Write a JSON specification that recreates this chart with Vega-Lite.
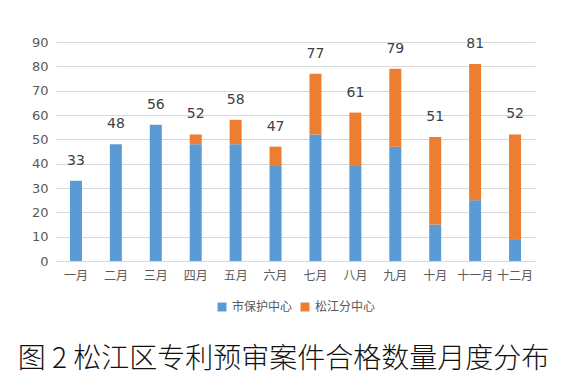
{
  "$schema": "https://vega.github.io/schema/vega-lite/v6.json",
  "autosize": {"type": "none"},
  "width": 479,
  "height": 219,
  "padding": {"left": 56, "top": 42, "right": 38, "bottom": 120},
  "background": "white",
  "config": {
    "font": "Noto Sans CJK SC",
    "view": {"stroke": null},
    "axis": {"labelColor": "#595959", "titleColor": "#595959"},
    "legend": {"layout": {"bottom": {"anchor": "middle"}}}
  },
  "data": {"values": [
    {"month": "一月", "series": "市保护中心", "value": 33, "o": 1},
    {"month": "二月", "series": "市保护中心", "value": 48, "o": 1},
    {"month": "三月", "series": "市保护中心", "value": 56, "o": 1},
    {"month": "四月", "series": "市保护中心", "value": 48, "o": 1},
    {"month": "五月", "series": "市保护中心", "value": 48, "o": 1},
    {"month": "六月", "series": "市保护中心", "value": 39, "o": 1},
    {"month": "七月", "series": "市保护中心", "value": 52, "o": 1},
    {"month": "八月", "series": "市保护中心", "value": 39, "o": 1},
    {"month": "九月", "series": "市保护中心", "value": 47, "o": 1},
    {"month": "十月", "series": "市保护中心", "value": 15, "o": 1},
    {"month": "十一月", "series": "市保护中心", "value": 25, "o": 1},
    {"month": "十二月", "series": "市保护中心", "value": 9, "o": 1},
    {"month": "一月", "series": "松江分中心", "value": 0, "o": 2},
    {"month": "二月", "series": "松江分中心", "value": 0, "o": 2},
    {"month": "三月", "series": "松江分中心", "value": 0, "o": 2},
    {"month": "四月", "series": "松江分中心", "value": 4, "o": 2},
    {"month": "五月", "series": "松江分中心", "value": 10, "o": 2},
    {"month": "六月", "series": "松江分中心", "value": 8, "o": 2},
    {"month": "七月", "series": "松江分中心", "value": 25, "o": 2},
    {"month": "八月", "series": "松江分中心", "value": 22, "o": 2},
    {"month": "九月", "series": "松江分中心", "value": 32, "o": 2},
    {"month": "十月", "series": "松江分中心", "value": 36, "o": 2},
    {"month": "十一月", "series": "松江分中心", "value": 56, "o": 2},
    {"month": "十二月", "series": "松江分中心", "value": 43, "o": 2}
  ]},
  "title": {
    "text": "图 2  松江区专利预审案件合格数量月度分布",
    "orient": "bottom",
    "anchor": "middle",
    "font": "Noto Sans CJK SC",
    "fontSize": 28,
    "fontWeight": 300,
    "color": "#111111",
    "offset": 33,
    "dx": -12
  },
  "encoding": {
    "x": {
      "field": "month", "type": "nominal", "sort": null,
      "scale": {"paddingInner": 0.7, "paddingOuter": 0.35},
      "axis": {"title": null, "labelAngle": 0, "labelFontSize": 12, "ticks": false, "domainColor": "#D9D9D9", "labelPadding": 9}
    }
  },
  "layer": [
    {
      "mark": {"type": "bar"},
      "encoding": {
        "y": {
          "field": "value", "type": "quantitative", "stack": "zero",
          "scale": {"domain": [0, 90]},
          "axis": {"title": null, "tickCount": 10, "values": [0,10,20,30,40,50,60,70,80,90], "labelFontSize": 13, "ticks": false, "domain": false, "gridColor": "#D9D9D9", "labelPadding": 8, "labelFont": "DejaVu Sans"}
        },
        "color": {
          "field": "series", "type": "nominal",
          "scale": {"domain": ["市保护中心", "松江分中心"], "range": ["#5B9BD5", "#ED7D31"]},
          "legend": {"title": null, "orient": "bottom", "direction": "horizontal", "symbolType": "square", "symbolSize": 80, "labelFontSize": 12, "labelColor": "#595959", "offset": 20, "columnPadding": 6, "symbolStrokeWidth": 0}
        },
        "order": {"field": "o", "type": "quantitative"}
      }
    },
    {
      "transform": [{"aggregate": [{"op": "sum", "field": "value", "as": "total"}], "groupby": ["month"]}],
      "mark": {"type": "text", "dy": -20, "fontSize": 14, "color": "#404040", "font": "DejaVu Sans"},
      "encoding": {
        "y": {"field": "total", "type": "quantitative"},
        "text": {"field": "total", "type": "quantitative"}
      }
    }
  ]
}
